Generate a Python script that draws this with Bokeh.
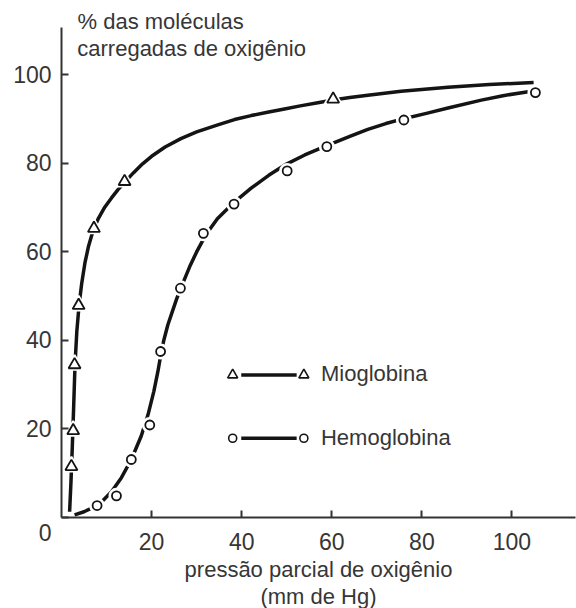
from bokeh.plotting import figure
from bokeh.models import Label, FixedTicker, Range1d, Title
from bokeh.embed import file_html
from bokeh.resources import INLINE

# ---- data ----
x_ticks = [20, 40, 60, 80, 100]
y_ticks = [0, 20, 40, 60, 80, 100]

# Mioglobina measured points (triangles)
mio_x = [2.2, 2.6, 2.9, 3.8, 7.2, 14.0, 60.3]
mio_y = [11.5, 19.6, 34.5, 47.9, 65.3, 75.9, 94.5]

# Hemoglobina measured points (circles)
hemo_x = [7.9, 12.2, 15.5, 19.6, 22.0, 26.4, 31.5, 38.3, 50.1, 58.9, 76.0, 105.2]
hemo_y = [2.7, 4.9, 13.1, 20.9, 37.5, 51.8, 64.2, 70.8, 78.3, 83.8, 89.8, 96.0]

# fitted curves as drawn in the reference
mio_curve_x = [1.8, 2.1, 2.4, 2.7, 3.0, 3.4, 3.9, 4.5, 5.2, 6.0, 7.0, 8.2, 9.6,
               11.1, 12.5, 14.0, 16.0, 18.0, 20.0, 23.0, 26.5, 30.0, 34.7, 38.4,
               42.1, 46.0, 49.5, 53.0, 56.9, 60.3, 64.0, 68.0, 75.4, 85.8, 95.0,
               104.8]
mio_curve_y = [1.3, 8.0, 16.0, 25.0, 34.5, 42.0, 48.0, 53.0, 57.5, 61.3, 64.8, 67.6,
               70.1, 72.2, 74.0, 75.7, 77.9, 79.9, 81.6, 83.7, 85.6, 87.1, 88.7,
               89.9, 90.8, 91.6, 92.3, 93.0, 93.7, 94.3, 94.9, 95.4, 96.3, 97.2,
               97.8, 98.3]

hemo_curve_x = [2.9, 5.0, 7.3, 9.0, 11.1, 13.3, 15.5, 17.7, 19.2, 20.5, 21.4, 22.0,
                22.7, 23.6, 24.6, 25.6, 26.4, 27.5, 28.6, 30.0, 32.0, 34.6, 38.3,
                42.1, 46.0, 49.5, 54.0, 58.9, 64.0, 68.0, 72.0, 76.0, 81.0, 85.8,
                93.2, 98.0, 103.6]
hemo_curve_y = [0.6, 1.3, 2.4, 3.6, 5.8, 9.0, 13.1, 18.4, 23.2, 28.5, 33.0, 36.5,
                40.0, 43.5, 46.5, 49.5, 51.6, 54.3, 57.0, 60.0, 63.8, 67.5, 71.2,
                74.4, 77.3, 79.6, 81.9, 84.0, 86.1, 87.7, 89.0, 90.1, 91.3, 92.5,
                94.3, 95.3, 96.2]

series_names = ["Mioglobina", "Hemoglobina"]
y_title = ["% das moléculas", "carregadas de oxigênio"]
x_title = ["pressão parcial de oxigênio", "(mm de Hg)"]

# ---- styling ----
FONT = "Liberation Sans"
TXT = "#363636"
INK = "#141414"
FS = "22px"

p = figure(width=576, height=608, output_backend="svg", toolbar_location=None,
           x_range=Range1d(0, 114.1), y_range=Range1d(0, 110.7),
           min_border_left=61, min_border_right=1, min_border_top=27,
           min_border_bottom=91)
p.outline_line_color = None
p.xgrid.visible = False
p.ygrid.visible = False
p.background_fill_color = "white"
p.border_fill_color = "white"

for ax in (p.xaxis[0], p.yaxis[0]):
    ax.axis_line_color = "#333333"
    ax.axis_line_width = 2
    ax.major_tick_line_color = "#333333"
    ax.major_tick_line_width = 2
    ax.major_tick_in = 7
    ax.major_tick_out = 0
    ax.minor_tick_line_color = None
    ax.major_label_text_font = FONT
    ax.major_label_text_font_size = "23px"
    ax.major_label_text_color = TXT
    ax.major_label_standoff = 10
p.xaxis.major_label_standoff = 15
p.xaxis.ticker = FixedTicker(ticks=x_ticks)
p.yaxis.ticker = FixedTicker(ticks=y_ticks)
# the shared origin "0" sits below the corner
p.yaxis.major_label_overrides = {0: "\n0"}

# first line of the y title above the plot area
p.title.text = y_title[0]
p.title.align = "left"
p.title.offset = 16
p.title.standoff = -12
p.title.text_font = FONT
p.title.text_font_size = FS
p.title.text_font_style = "normal"
p.title.text_color = TXT

# x title below the axis (two centred lines)
for txt, so in zip(x_title, [5, -5]):
    p.add_layout(Title(text=txt, align="center", offset=6, standoff=so,
                       text_font=FONT, text_font_size=FS, text_font_style="normal",
                       text_color=TXT), "below")

# curves
p.line(mio_curve_x, mio_curve_y, line_width=3.5, line_color=INK, line_join="round")
p.line(hemo_curve_x, hemo_curve_y, line_width=3.5, line_color=INK, line_join="round")

# white halos to break the curves around the markers
p.scatter(mio_x, mio_y, marker="triangle", size=17, fill_color="white",
          line_color="white", line_width=2)
p.scatter(hemo_x, hemo_y, marker="circle", size=14, fill_color="white",
          line_color="white", line_width=2)
# markers
p.scatter(mio_x, mio_y, marker="triangle", size=12, fill_color="white",
          line_color=INK, line_width=1.8)
p.scatter(hemo_x, hemo_y, marker="circle", size=9, fill_color="white",
          line_color=INK, line_width=1.8)

# ---- hand-made legend (layout positions) ----
leg_rows = [(32.2, 32.5, "triangle", 10), (17.9, 18.1, "circle", 8)]
for (ym, yt, mk, sz), name in zip(leg_rows, series_names):
    p.line([39.9, 52.2], [ym, ym], line_width=3.5, line_color=INK)
    p.scatter([38.0, 53.8], [ym, ym], marker=mk, size=sz, fill_color="white",
              line_color=INK, line_width=1.6)
    p.add_layout(Label(x=57.6, y=yt, text=name, text_align="left",
                       text_baseline="alphabetic", text_font=FONT,
                       text_font_size=FS, text_color=TXT))

# second line of the y title (inside the plot area)
p.add_layout(Label(x=3.5, y=105.9, text=y_title[1], text_align="left",
                   text_baseline="alphabetic", text_font=FONT,
                   text_font_size=FS, text_color=TXT))

open("out.html", "w").write(file_html(p, INLINE))
